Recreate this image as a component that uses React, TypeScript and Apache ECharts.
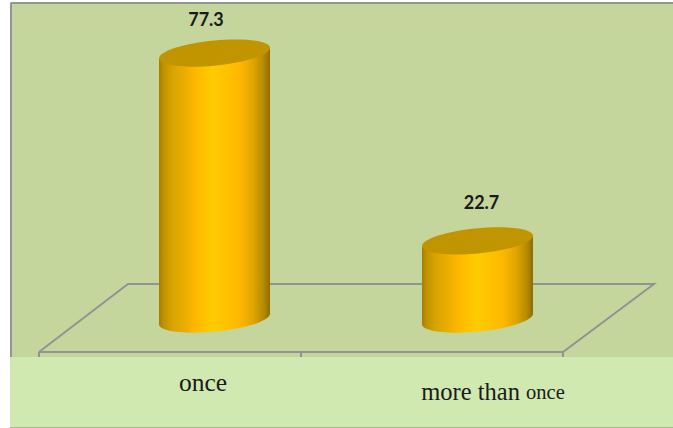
import React, { useEffect, useRef } from "react";
import * as echarts from "echarts";

const categories = ["once", "more than once"];
const values = [77.3, 22.7];
const valueLabels = ["77.3", "22.7"];

const W = 673;
const H = 428;
const GRID_LEFT = 83;
const GRID_WIDTH = 526;
const GRID_TOP = 9.4;
const GRID_HEIGHT = 309.6;
const labelOffsets = [
  [-8.5, -34],
  [4, -39],
];
const HALF_W = 55.5;
const TILT = 5.2;
const DEPTH = 12.6;
const K = 0.5523;

const sideGradient = () =>
  new echarts.graphic.LinearGradient(0, 0, 1, 0, [
    { offset: 0, color: "#a67d00" },
    { offset: 0.04, color: "#c09200" },
    { offset: 0.12, color: "#d8a400" },
    { offset: 0.24, color: "#ecae00" },
    { offset: 0.33, color: "#ffb800" },
    { offset: 0.49, color: "#ffcc00" },
    { offset: 0.73, color: "#ffb800" },
    { offset: 0.85, color: "#e0a400" },
    { offset: 0.94, color: "#b88c00" },
    { offset: 1, color: "#8f6c00" },
  ]);

// Conjugate-diameter form of the tilted ellipse: u runs to the right tangent point, v runs straight down.
const pt = (cx: number, cy: number, a: number, b: number) =>
  `${cx + a * HALF_W} ${cy - a * TILT + b * DEPTH}`;
const lowerArc = (cx: number, cy: number) =>
  `C${pt(cx, cy, -1, K)} ${pt(cx, cy, -K, 1)} ${pt(cx, cy, 0, 1)} ` +
  `C${pt(cx, cy, K, 1)} ${pt(cx, cy, 1, K)} ${pt(cx, cy, 1, 0)}`;
const upperArc = (cx: number, cy: number) =>
  `C${pt(cx, cy, 1, -K)} ${pt(cx, cy, K, -1)} ${pt(cx, cy, 0, -1)} ` +
  `C${pt(cx, cy, -K, -1)} ${pt(cx, cy, -1, -K)} ${pt(cx, cy, -1, 0)}`;

function renderCylinder(params: any, api: any) {
  const i = params.dataIndex;
  const top = api.coord([api.value(0), api.value(1)]);
  const base = api.coord([api.value(0), 0]);
  const side =
    `M${pt(top[0], top[1], -1, 0)} L${pt(base[0], base[1], -1, 0)} ` +
    `${lowerArc(base[0], base[1])} L${pt(top[0], top[1], 1, 0)} Z`;
  const cap =
    `M${pt(top[0], top[1], -1, 0)} ${lowerArc(top[0], top[1])} ${upperArc(top[0], top[1])} Z`;
  return {
    type: "group",
    children: [
      { type: "path", shape: { pathData: side }, style: { fill: sideGradient() } },
      { type: "path", shape: { pathData: cap }, style: { fill: "#c19500" } },
      {
        type: "text",
        style: {
          x: top[0] + labelOffsets[i][0],
          y: top[1] + labelOffsets[i][1],
          text: valueLabels[i],
          fill: "#1a1a1a",
          font: "bold 18px Lato, sans-serif",
          align: "center",
          verticalAlign: "middle",
        },
      },
    ],
  };
}

const line = (x1: number, y1: number, x2: number, y2: number) => ({
  type: "line",
  z: 1,
  shape: { x1, y1, x2, y2 },
  style: { stroke: "#939393", lineWidth: 2 },
});

export default function App() {
  const ref = useRef<HTMLDivElement>(null);
  useEffect(() => {
    const chart = echarts.init(ref.current!, null, { renderer: "svg" });
    chart.setOption({
      animation: false,
      backgroundColor: "#ffffff",
      grid: { left: GRID_LEFT, top: GRID_TOP, width: GRID_WIDTH, height: GRID_HEIGHT },
      xAxis: {
        type: "category",
        data: categories,
        axisLine: { show: false },
        axisTick: { show: false },
        axisLabel: {
          margin: 50,
          interval: 0,
          formatter: (v: string) =>
            v === categories[0] ? `{a|${v}}` : `{b|more than }{c|once}`,
          rich: {
            a: { fontFamily: "Liberation Serif", fontSize: 25.5, color: "#1a1a1a", padding: [0, 23, 2, 0] },
            b: { fontFamily: "Liberation Serif", fontSize: 24.5, color: "#1a1a1a", padding: [10, 0, 0, 31] },
            c: { fontFamily: "Liberation Serif", fontSize: 20.5, color: "#1a1a1a", padding: [10, 0, 0, 0] },
          },
        },
      },
      yAxis: { type: "value", min: 0, max: 90, show: false },
      graphic: [
        { type: "rect", z: 0, shape: { x: 10, y: 2, width: W - 10, height: 355 }, style: { fill: "#c4d69c" } },
        { type: "rect", z: 0, shape: { x: 10, y: 357, width: W - 10, height: 71 }, style: { fill: "#d0e9b0" } },
        line(11, 3, W, 3),
        line(11, 3, 11, 357),
        { type: "line", z: 1, shape: { x1: 10, y1: 427.5, x2: W, y2: 427.5 }, style: { stroke: "#a8b898", lineWidth: 1 } },
        { type: "polyline", z: 1, shape: { points: [[39, 352], [128, 284], [654, 284], [563, 352], [39, 352]] }, style: { stroke: "#939393", lineWidth: 2, fill: "none" } },
        line(39, 352, 39, 357),
        line(301, 352, 301, 357),
        line(563, 352, 563, 357),
      ],
      series: [
        {
          type: "custom",
          z: 5,
          renderItem: renderCylinder,
          encode: { x: 0, y: 1 },
          data: categories.map((c, i) => [i, values[i]]),
        },
      ],
    });
    return () => chart.dispose();
  }, []);
  return <div ref={ref} style={{ position: "absolute", left: 0, top: 0, width: W, height: H }} />;
}
